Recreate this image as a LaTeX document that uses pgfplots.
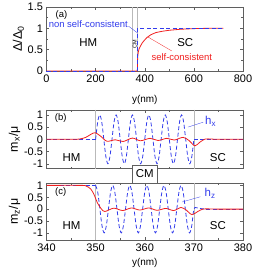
\documentclass[border=0pt]{standalone}
\usepackage{pgfplots}
\pgfplotsset{compat=1.18}
\usepackage{fontspec}
\setmainfont{Liberation Sans}
\definecolor{myred}{RGB}{240,30,30}
\definecolor{myblue}{RGB}{50,60,235}
\definecolor{gline}{RGB}{185,185,185}
\definecolor{frame}{RGB}{95,95,95}
\tikzset{
  redl/.style={myred, line width=0.8pt},
  bluel/.style={myblue, line width=0.8pt, dash pattern=on 4bp off 2.5bp},
  gl/.style={gline, line width=0.5pt},
  ann/.style={font=\fontsize{9.5}{11}\selectfont},
  big/.style={font=\fontsize{11.5}{13}\selectfont},
}
\pgfplotsset{
  every axis/.append style={
    scale only axis, width=196.5bp,
    axis line style={frame, line width=0.5pt},
    tick style={frame, line width=0.4pt},
    major tick length=3bp, minor tick length=1.8bp,
    tick align=inside,
    ticklabel style={font=\fontsize{11}{13}\selectfont},
    label style={font=\fontsize{11.5}{13}\selectfont},
    /pgf/number format/assume math mode=true,
    every axis y label/.style={at={(rel axis cs:0,0.5)}, xshift=-32bp, rotate=90, anchor=center, font=\fontsize{12.5}{14}\selectfont},
  },
}
\begin{document}
\begin{tikzpicture}
\useasboundingbox (0,0) rectangle (254bp,270bp);
% ---------------- panel (a)
\begin{axis}[name=a, at={(46.5bp,199bp)}, anchor=south west, height=64bp,
  xmin=0, xmax=800, ymin=0, ymax=1.5,
  xtick={0,200,400,600,800}, minor xtick={100,300,500,700},
  ytick={0,0.5,1,1.5}, minor ytick={0.25,0.75,1.25},
  xlabel={y(nm)}, ylabel={Δ/Δ\textsubscript{0}},
  every axis x label/.style={at={(rel axis cs:0.5,0)}, anchor=center, yshift=-29bp},
  every axis y label/.style={at={(rel axis cs:0,0.5)}, xshift=-28bp, rotate=90, anchor=center, font=\fontsize{12.5}{14}\selectfont},
  clip=false]
\addplot[gl] coordinates {(350,0)(350,1.5)};
\addplot[gl] coordinates {(370,0)(370,1.5)};
\addplot[redl] coordinates {(0,0)(370,0)(370.3,0.15)(371,0.28)(372,0.37)(374,0.45)(377,0.52)(382,0.58)(390,0.66)(400,0.73)(410,0.79)(425,0.85)(445,0.9)(470,0.93)(500,0.955)(545,0.978)(600,0.993)(650,1)(720,1)};
\addplot[bluel] coordinates {(0,0)(370,0)(370,1)(720,1)};
\node[ann] at (axis cs:61,1.31) {(a)};
\node[ann, text=myblue] at (axis cs:170,1.09) {non self-consistent};
\draw[myblue, line width=0.3pt] (axis cs:334,1.05) -- (axis cs:371,0.89);
\node[big] at (axis cs:170,0.66) {HM};
\node[big] at (axis cs:565,0.66) {SC};
\node[font=\fontsize{5.5}{6}\selectfont, rotate=90, inner sep=0pt] at (axis cs:359,0.62) {CM};
\node[ann, text=myred] at (axis cs:551,0.32) {self-consistent};
\draw[myred, line width=0.3pt] (axis cs:412,0.80) -- (axis cs:510,0.47);
\end{axis}
% ---------------- panel (b)
\begin{axis}[name=b, at={(46.5bp,101.4bp)}, anchor=south west, height=58.6bp,
  xmin=340, xmax=380, ymin=-1.2, ymax=1.2,
  xtick={340,350,...,380}, minor xtick={345,355,365,375}, xticklabels={},
  ytick={-1,-0.5,0,0.5,1},
  ylabel={m\textsubscript{x}/μ}]
\addplot[gl] coordinates {(350,-1.2)(350,1.2)};
\addplot[gl] coordinates {(370,-1.2)(370,1.2)};
\addplot[bluel] coordinates {(340,0)(350,0)};
\addplot[bluel, smooth] coordinates {
(350.000,0)(350.417,0.707)(350.833,1)(351.250,0.707)(351.667,0)(352.083,-0.707)(352.500,-1)(352.917,-0.707)
(353.333,0)(353.750,0.707)(354.167,1)(354.583,0.707)(355.000,0)(355.417,-0.707)(355.833,-1)(356.250,-0.707)
(356.667,0)(357.083,0.707)(357.500,1)(357.917,0.707)(358.333,0)(358.750,-0.707)(359.167,-1)(359.583,-0.707)
(360.000,0)(360.417,0.707)(360.833,1)(361.250,0.707)(361.667,0)(362.083,-0.707)(362.500,-1)(362.917,-0.707)
(363.333,0)(363.750,0.707)(364.167,1)(364.583,0.707)(365.000,0)(365.417,-0.707)(365.833,-1)(366.250,-0.707)
(366.667,0)(367.083,0.707)(367.500,1)(367.917,0.707)(368.333,0)(368.750,-0.707)(369.167,-1)(369.583,-0.707)
(370.000,0)};
\addplot[bluel] coordinates {(370,0)(380,0)};
\addplot[redl, smooth] coordinates {(340,0)(345,0)(346.7,0.01)(348,0.08)(349,0.2)(349.9,0.27)(351,0.13)(352.3,-0.08)(354,-0.02)(355.6,-0.09)(357.5,0.05)(359.1,-0.06)(361.1,0.04)(362.7,-0.05)(364.5,0.04)(366,-0.03)(367.8,0.08)(369,-0.05)(370.2,-0.27)(371.2,-0.12)(372.3,0.01)(373.5,0.01)(375,0)(380,0)};
\node[ann] at (axis cs:342.9,0.88) {(b)};
\node[big] at (axis cs:345.1,-0.73) {HM};
\node[big] at (axis cs:374.9,-0.73) {SC};
\node[big, text=myblue] at (axis cs:373.4,0.72) {h\textsubscript{x}};
\draw[myblue, line width=0.3pt] (axis cs:368.8,0.5) -- (axis cs:371.9,0.7);
\end{axis}
% ---------------- panel (c)
\begin{axis}[name=c, at={(46.5bp,30bp)}, anchor=south west, height=57bp,
  xmin=340, xmax=380, ymin=-1.3, ymax=1.1,
  xtick={340,350,...,380}, minor xtick={345,355,365,375},
  ytick={-1,-0.5,0,0.5,1},
  xlabel={y(nm)}, ylabel={m\textsubscript{z}/μ},
  every axis x label/.style={at={(rel axis cs:0.5,0)}, anchor=center, yshift=-23bp}]
\addplot[gl] coordinates {(350,-1.3)(350,1.1)};
\addplot[gl] coordinates {(370,-1.3)(370,1.1)};
\addplot[bluel] coordinates {(340,1)(350,1)};
\addplot[bluel, smooth] coordinates {
(350.000,1)(350.435,0.707)(350.870,0)(351.304,-0.707)(351.739,-1)(352.174,-0.707)(352.609,0)(353.043,0.707)
(353.478,1)(353.913,0.707)(354.348,0)(354.783,-0.707)(355.217,-1)(355.652,-0.707)(356.087,0)(356.522,0.707)
(356.957,1)(357.391,0.707)(357.826,0)(358.261,-0.707)(358.696,-1)(359.130,-0.707)(359.565,0)(360.000,0.707)
(360.435,1)(360.870,0.707)(361.304,0)(361.739,-0.707)(362.174,-1)(362.609,-0.707)(363.043,0)(363.478,0.707)
(363.913,1)(364.348,0.707)(364.783,0)(365.217,-0.707)(365.652,-1)(366.087,-0.707)(366.522,0)(366.957,0.707)
(367.391,1)(367.826,0.707)(368.261,0)(368.696,-0.707)(369.130,-1)(369.565,-0.707)(370.000,0)(370.5,0.06)(371.5,0.02)(372.5,0)};
\addplot[bluel] coordinates {(372.5,0)(380,0)};
\addplot[redl, smooth] coordinates {(340,1)(347,1)(348,0.98)(349,0.85)(349.7,0.6)(350.4,0.25)(351.2,0)(351.9,-0.1)(353.7,0.04)(355.5,-0.06)(357.3,0.05)(359,-0.04)(360.8,0.05)(362.5,-0.05)(364.3,0.03)(365.9,-0.06)(367.4,0.07)(368.5,-0.05)(369.6,-0.23)(370.8,-0.1)(371.8,0)(373,0.01)(375,0)(380,0)};
\node[ann] at (axis cs:342.9,0.71) {(c)};
\node[big] at (axis cs:345.1,-0.7) {HM};
\node[big] at (axis cs:374.9,-0.7) {SC};
\node[big, text=myblue] at (axis cs:373.3,0.68) {h\textsubscript{z}};
\draw[myblue, line width=0.3pt] (axis cs:367.6,0.3) -- (axis cs:371.3,0.52);
\end{axis}
\node[draw=frame, fill=white, line width=0.4pt, minimum width=25bp, minimum height=18bp, inner sep=0pt, big] at ([yshift=9bp]c.north) {CM};
\end{tikzpicture}
\end{document}
